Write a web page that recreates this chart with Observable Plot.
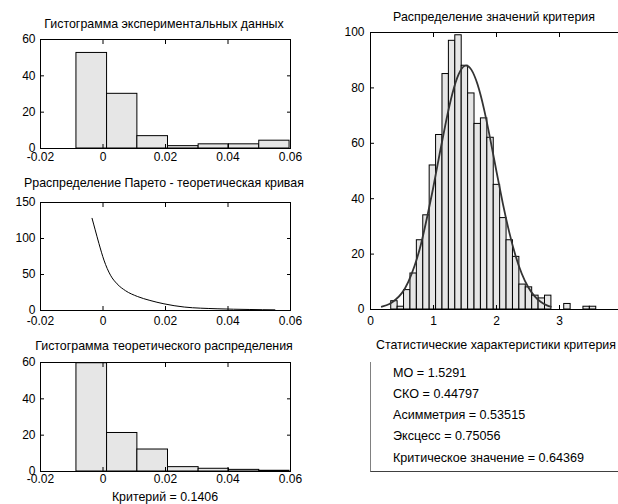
<!DOCTYPE html>
<html><head><meta charset="utf-8">
<script src="https://cdn.jsdelivr.net/npm/d3@7"></script>
<script src="https://cdn.jsdelivr.net/npm/@observablehq/plot@0.6"></script>
<style>
html,body{margin:0;padding:0;overflow:hidden;background:#fff;}
#root{position:relative;width:618px;height:504px;overflow:hidden;font-family:"Liberation Sans",Arial,sans-serif;color:#000;}
.ttl{position:absolute;font-size:12.4px;white-space:nowrap;transform:translate(-50%,-50%);line-height:14px;}
.panel{position:absolute;}
.stat{position:absolute;font-size:12.6px;white-space:nowrap;transform:translateY(-50%);line-height:14px;}
</style></head><body><div id="root"></div><script>
// ---------- data ----------
const leftXTicks = [-0.02, 0, 0.02, 0.04, 0.06];
const histYTicks = [0, 20, 40, 60];
const paretoYTicks = [0, 50, 100, 150];
const critXTicks = [0, 1, 2, 3];
const critYTicks = [0, 20, 40, 60, 80, 100];

const binEdges = [-0.0085, 0.0013, 0.0110, 0.0208, 0.0306, 0.0403, 0.0500, 0.0597];
const expCounts = [52.6, 30.1, 6.8, 1.3, 2.3, 2.3, 4.3];
const theoCounts = [59.6, 21.2, 12.1, 2.4, 1.5, 0.9, 0.4];

const paretoX = [-0.0035, -0.0025, -0.0013, 0.0003, 0.0024, 0.0045, 0.0072, 0.011, 0.015, 0.0195, 0.026, 0.0365, 0.047, 0.055];
const paretoY = [128, 112, 93, 70, 49, 37, 27.5, 19.5, 14, 9.3, 4.8, 2.4, 1.4, 0.9];

const critBinStart = 0.329;
const critBinWidth = 0.1017;
const critCounts = [3, 1, 7, 13, 25, 34, 52, 63, 85, 97, 99, 88, 78, 67, 69, 62, 45, 33, 25, 19, 9, 8, 5, 4, 5, 0, 0, 2, 0, 0, 1, 1];

const fitX = [0.18, 0.3, 0.4, 0.5, 0.6, 0.7, 0.8, 0.9, 1.0, 1.1, 1.2, 1.3, 1.4, 1.5, 1.6, 1.7, 1.8, 1.9, 2.0, 2.1, 2.2, 2.3, 2.4, 2.5, 2.6, 2.7, 2.8, 2.86];
const fitY = [1.0, 2.0, 3.6, 6.0, 10.0, 15.8, 23.5, 33.5, 44.5, 56.5, 68, 78, 85, 88, 86.6, 81.2, 72.5, 61.6, 49.8, 38.3, 28.1, 19.6, 13.0, 8.2, 4.9, 2.8, 1.5, 1.0];

const statLines = ["МО = 1.5291", "СКО = 0.44797", "Асимметрия = 0.53515", "Эксцесс = 0.75056", "Критическое значение = 0.64369"];

const titles = {
  exp: "Гистограмма экспериментальных данных",
  pareto: "Рраспределение Парето - теоретическая кривая",
  theo: "Гистограмма теоретического распределения",
  theoX: "Критерий = 0.1406",
  crit: "Распределение значений критерия",
  stats: "Статистические характеристики критерия"
};

// ---------- tables ----------
const expBins = expCounts.map((v, i) => ({x1: binEdges[i], x2: binEdges[i + 1], y: v}));
const theoBins = theoCounts.map((v, i) => ({x1: binEdges[i], x2: binEdges[i + 1], y: v}));
const pareto = paretoX.map((x, i) => ({x, y: paretoY[i]}));
const critBins = critCounts.map((v, i) => ({x1: critBinStart + i * critBinWidth, x2: critBinStart + (i + 1) * critBinWidth, y: v}));
const fit = fitX.map((x, i) => ({x, y: fitY[i]}));

const root = document.getElementById("root");
const FONT = '"Liberation Sans", Arial, sans-serif';

function addText(cls, txt, x, y) {
  const d = document.createElement("div");
  d.className = cls; d.textContent = txt;
  d.style.left = x + "px"; d.style.top = y + "px";
  root.appendChild(d);
  return d;
}

function panel(o) {
  const blank = () => "";
  const svg = Plot.plot({
    width: o.width, height: o.height,
    marginTop: o.mt, marginRight: o.mr, marginBottom: o.mb, marginLeft: o.ml,
    x: {domain: o.xDomain},
    y: {domain: o.yDomain},
    style: {fontFamily: FONT, fontSize: "12px", color: "#000", background: "transparent", overflow: "visible"},
    marks: [
      ...o.marks,
      Plot.axisX({anchor: "bottom", ticks: o.xTicks, tickSize: 0, tickPadding: o.xPad, tickFormat: o.xFmt, label: null, fontSize: 12}),
      Plot.axisX({anchor: "bottom", ticks: o.xTicks, tickSize: 4, dy: -4, tickFormat: blank, label: null}),
      Plot.axisX({anchor: "top", ticks: o.xTicks, tickSize: 4, dy: 4, tickFormat: blank, label: null}),
      Plot.axisY({anchor: "left", ticks: o.yTicks, tickSize: 0, tickPadding: o.yPad, tickFormat: d => String(d), label: null, fontSize: 12}),
      Plot.axisY({anchor: "left", ticks: o.yTicks, tickSize: 4, dx: 4, tickFormat: blank, label: null}),
      Plot.axisY({anchor: "right", ticks: o.yTicks, tickSize: 4, dx: -4, tickFormat: blank, label: null}),
      Plot.frame({stroke: "#000", strokeWidth: 1})
    ]
  });
  svg.classList.add("panel");
  svg.style.left = o.left + "px";
  svg.style.top = o.top + "px";
  root.appendChild(svg);
}

const leftFmt = d => d === 0 ? "0" : String(d);
const barStyle = {fill: "#e6e6e6", stroke: "#000", strokeWidth: 1};

// top-left
panel({left: 0, top: 0, width: 310, height: 170, mt: 39, mr: 20, mb: 22, ml: 40,
  xDomain: [-0.02, 0.06], yDomain: [0, 60], xTicks: leftXTicks, yTicks: histYTicks, xFmt: leftFmt, xPad: 4, yPad: 5,
  marks: [Plot.rectY(expBins, {x1: "x1", x2: "x2", y: "y", ...barStyle})]});
// middle-left
panel({left: 0, top: 170, width: 310, height: 170, mt: 32, mr: 20, mb: 30, ml: 40,
  xDomain: [-0.02, 0.06], yDomain: [0, 150], xTicks: leftXTicks, yTicks: paretoYTicks, xFmt: leftFmt, xPad: 6, yPad: 5,
  marks: [Plot.line(pareto, {x: "x", y: "y", stroke: "#000", strokeWidth: 1, curve: "monotone-x"})]});
// bottom-left
panel({left: 0, top: 335, width: 310, height: 169, mt: 27, mr: 20, mb: 33, ml: 40,
  xDomain: [-0.02, 0.06], yDomain: [0, 60], xTicks: leftXTicks, yTicks: histYTicks, xFmt: leftFmt, xPad: 3, yPad: 5,
  marks: [Plot.rectY(theoBins, {x1: "x1", x2: "x2", y: "y", ...barStyle})]});
// right histogram
panel({left: 330, top: 0, width: 300, height: 340, mt: 32, mr: 8, mb: 31, ml: 40,
  xDomain: [0, 4], yDomain: [0, 100], xTicks: critXTicks, yTicks: critYTicks, xFmt: d => String(d), xPad: 7, yPad: 6,
  marks: [
    Plot.rectY(critBins, {x1: "x1", x2: "x2", y: "y", ...barStyle}),
    Plot.line(fit, {x: "x", y: "y", stroke: "#333", strokeWidth: 1.8, curve: "natural"})
  ]});

// titles
addText("ttl", titles.exp, 164, 24);
addText("ttl", titles.pareto, 164, 183);
addText("ttl", titles.theo, 164, 346);
addText("ttl", titles.theoX, 165, 497);
addText("ttl", titles.crit, 494, 17);
addText("ttl", titles.stats, 496, 345);

// stats box
const box = document.createElement("div");
box.style.cssText = "position:absolute;left:370px;top:362px;width:260px;height:109px;border-left:1px solid #808080;border-bottom:1px solid #404040;";
root.appendChild(box);
const statY = [373, 394, 415, 436, 458];
statLines.forEach((s, i) => addText("stat", s, 393, statY[i]));
</script></body></html>
